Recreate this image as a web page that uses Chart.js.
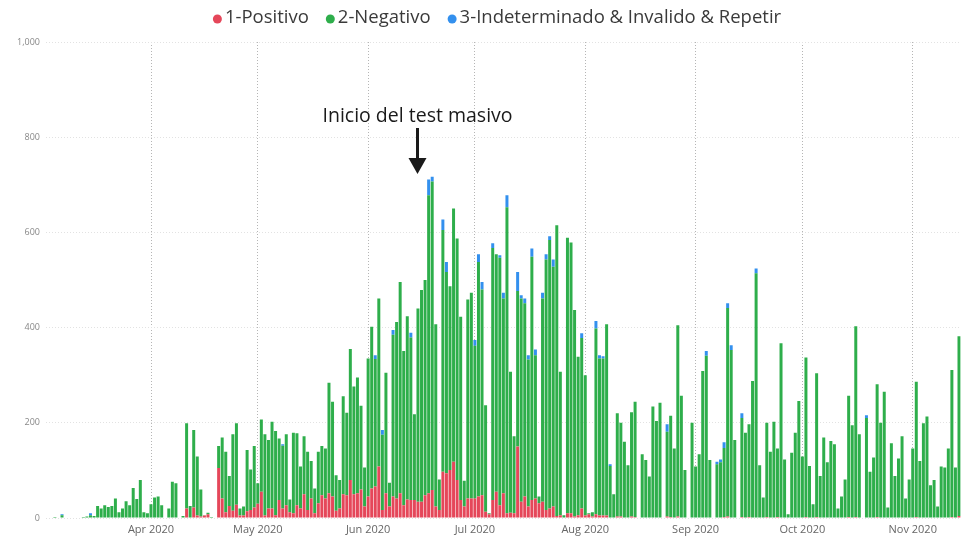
<!DOCTYPE html>
<html><head><meta charset="utf-8">
<script src="https://cdn.jsdelivr.net/npm/chart.js@4.4.1/dist/chart.umd.min.js"></script>
<style>html,body{margin:0;padding:0;background:#fff;overflow:hidden}#wrap{width:964px;height:538px;position:relative}</style>
</head><body><div id="wrap"><canvas id="c" width="964" height="538"></canvas></div>
<script>
// ---- Data (daily test results, 2020) ----
const SERIES_NAMES = ['1-Positivo', '2-Negativo', '3-Indeterminado & Invalido & Repetir'];
const MONTH_NAMES = ['Mar','Apr','May','Jun','Jul','Aug','Sep','Oct','Nov'];
const MONTH_NUMS  = [3,4,5,6,7,8,9,10,11];
const FIRST_DAYS  = [3,1,1,1,1,1,1,1,1];
const Y_TICKS = [0,200,400,600,800,1000];

const posMar = [0,0,0,0,0,0,0,0,0,0,0,0,0,0,0,0,0,0,0,0,0,0,0,0,0,0,0,0,0];
const negMar = [0,0,2,0,6,0,0,0,0,0,2,3,6,4,25,20,27,23,25,41,12,20,35,27,63,40,80,12,10];
const indMar = [0,0,0,0,2,0,0,0,0,0,0,0,4,0,0,0,0,0,0,0,0,0,0,0,0,0,0,0,0];

const posApr = [0,0,0,0,0,0,0,0,0,0,20,0,22,5,3,5,8,1,0,105,41,12,25,15,28,5,5,14,17,22];
const negApr = [29,43,45,27,0,20,76,73,0,4,179,25,163,124,57,1,3,1,0,46,128,127,63,161,171,15,19,129,85,129];
const indApr = [0,0,0,0,0,0,0,0,0,0,0,0,0,0,0,0,0,0,0,0,0,0,0,0,0,0,0,0,0,0];

const posMay = [30,55,5,20,20,6,38,20,27,12,10,27,20,50,17,41,10,31,48,41,52,45,15,20,50,48,80,50,52,60,24];
const negMay = [43,152,171,144,182,177,129,132,149,27,169,151,88,122,122,79,52,108,103,105,232,199,75,60,206,173,275,226,243,176,82];
const indMay = [0,0,0,0,0,0,0,3,0,0,0,0,0,0,0,0,0,0,0,0,0,0,0,0,0,0,0,0,0,0,0];

const posJun = [45,62,66,108,17,52,24,45,41,52,27,39,38,38,34,34,48,52,59,24,17,97,94,101,118,80,38,24,41,41];
const negJun = [290,340,268,353,158,253,50,340,371,444,324,385,341,180,406,445,452,626,648,383,64,508,423,386,532,507,385,54,418,432];
const indJun = [0,0,8,0,10,0,0,10,0,0,0,0,10,0,0,0,0,33,10,0,0,22,21,0,0,0,0,0,0,0];

const posJul = [41,45,48,13,8,38,55,27,52,10,11,10,150,34,45,24,38,41,31,34,17,20,24,4,6,0,10,10,3,6,20];
const negJul = [321,493,432,224,2,529,499,520,409,643,296,162,327,427,406,309,511,301,14,427,526,564,504,611,301,6,579,569,434,333,358];
const indJul = [12,16,16,0,0,10,0,5,12,25,0,0,40,7,10,9,17,12,0,12,11,8,15,0,0,0,0,0,0,0,10];

const posAug = [5,8,3,8,5,5,5,0,0,3,3,0,0,3,2,0,0,0,0,0,0,0,0,3,2,0,3,0,0,0,0];
const negAug = [295,2,9,390,330,330,402,109,50,217,197,160,111,219,242,0,134,122,87,234,204,242,0,178,213,146,402,257,101,0,200];
const indAug = [0,0,0,16,7,5,0,4,0,0,0,0,0,0,0,0,0,0,0,0,0,0,0,16,0,0,0,0,0,0,0];

const posSep = [0,0,0,0,0,0,0,0,2,3,0,0,0,2,0,2,0,0,0,0,2,0,0,2,0,0,0,0,0,0];
const negSep = [108,134,309,341,122,0,113,117,145,438,353,164,0,208,179,195,288,514,111,43,198,139,202,144,367,123,8,137,179,246];
const indSep = [0,0,0,10,0,0,5,6,12,10,10,0,0,10,0,0,0,10,0,0,0,0,0,0,0,0,0,0,0,0];

const posOct = [0,2,0,0,2,0,0,0,0,0,0,0,0,2,0,2,0,0,0,0,0,2,0,0,0,0,0,0,0,0,0];
const negOct = [129,335,109,29,302,88,169,117,162,155,20,45,81,255,195,401,176,0,210,97,127,279,200,265,22,157,88,125,172,41,81];
const indOct = [0,0,0,0,0,0,0,0,0,0,0,0,0,0,0,0,0,0,6,0,0,0,0,0,0,0,0,0,0,0,0];

const posNov = [0,2,0,0,0,0,0,0,0,0,0,2,0,4];
const negNov = [146,284,120,199,213,69,80,24,108,106,146,309,106,378];
const indNov = [0,0,0,0,0,0,0,0,0,0,0,0,0,0];

const ANNOTATION_TEXT = 'Inicio del test masivo';
const ANNOTATION_DATE = '2020-06-15';

// ---- Build tables ----
const posByMonth = [posMar,posApr,posMay,posJun,posJul,posAug,posSep,posOct,posNov];
const negByMonth = [negMar,negApr,negMay,negJun,negJul,negAug,negSep,negOct,negNov];
const indByMonth = [indMar,indApr,indMay,indJun,indJul,indAug,indSep,indOct,indNov];
const pad = n => String(n).padStart(2,'0');
const labels = [];
MONTH_NAMES.forEach((m, mi) => {
  for (let i = 0; i < negByMonth[mi].length; i++) {
    labels.push('2020-' + pad(MONTH_NUMS[mi]) + '-' + pad(FIRST_DAYS[mi] + i));
  }
});
const pos = [].concat(...posByMonth);
const neg = [].concat(...negByMonth);
const ind = [].concat(...indByMonth);

const RED = '#E5475A', GREEN = '#2EAE4B', BLUE = '#3390EE';
const FONT = '"Open Sans", "Noto Sans", sans-serif';

const isMonthStart = i => labels[i] && labels[i].endsWith('-01');

const legendPlugin = {
  id: 'customLegend',
  afterDraw(chart) {
    const ctx = chart.ctx;
    ctx.save();
    ctx.font = '18.5px ' + FONT;
    ctx.textBaseline = 'middle';
    const r = 4.5, gapDot = 3, gapItem = 17;
    const items = chart.data.datasets.map(d => ({text: d.label, color: d.backgroundColor, w: ctx.measureText(d.label).width}));
    const total = items.reduce((s, it) => s + r*2 + gapDot + it.w, 0) + gapItem * (items.length - 1);
    let x = 497 - total / 2;
    const y = 18;
    items.forEach(it => {
      ctx.fillStyle = it.color;
      ctx.beginPath(); ctx.arc(x + r, y + 1, r, 0, Math.PI*2); ctx.fill();
      x += r*2 + gapDot;
      ctx.fillStyle = '#3a3a3a';
      ctx.textAlign = 'left';
      ctx.fillText(it.text, x, y);
      x += it.w + gapItem;
    });
    ctx.restore();
  }
};

const annotationPlugin = {
  id: 'arrowNote',
  afterDatasetsDraw(chart) {
    const ctx = chart.ctx;
    const xs = chart.scales.x;
    const idx = labels.indexOf(ANNOTATION_DATE);
    const x = Math.round(xs.getPixelForValue(idx)) - 0.5;
    ctx.save();
    ctx.fillStyle = '#1a1a1a';
    ctx.font = '19.5px ' + FONT;
    ctx.textAlign = 'center';
    ctx.textBaseline = 'middle';
    ctx.fillText(ANNOTATION_TEXT, x, 116);
    ctx.fillRect(x - 1.5, 128, 3, 32);
    ctx.beginPath();
    ctx.moveTo(x - 9, 158); ctx.lineTo(x + 9, 158); ctx.lineTo(x, 174); ctx.closePath();
    ctx.fill();
    ctx.restore();
  }
};

new Chart(document.getElementById('c'), {
  type: 'bar',
  data: {
    labels,
    datasets: [
      {label: SERIES_NAMES[0], data: pos, backgroundColor: RED},
      {label: SERIES_NAMES[1], data: neg, backgroundColor: GREEN},
      {label: SERIES_NAMES[2], data: ind, backgroundColor: BLUE}
    ]
  },
  options: {
    responsive: false,
    animation: false,
    devicePixelRatio: 1,
    layout: {padding: {top: 42, right: 1, left: 0, bottom: 0}},
    datasets: {bar: {barPercentage: 0.84, categoryPercentage: 1.0, borderWidth: 0}},
    plugins: {legend: {display: false}, tooltip: {enabled: false}},
    scales: {
      x: {
        stacked: true,
        offset: true,
        grid: {offset: false, drawTicks: false, lineWidth: 1,
               color: c => isMonthStart(c.index) ? '#b5b5b5' : 'rgba(0,0,0,0)'},
        border: {display: false, dash: [1, 2]},
        ticks: {autoSkip: false, maxRotation: 0, minRotation: 0, padding: 5, color: '#666',
                font: {size: 11, family: FONT},
                callback: (v, i) => isMonthStart(i) ? MONTH_NAMES[MONTH_NUMS.indexOf(+labels[i].slice(5,7))] + ' 2020' : ''},
        afterFit: s => { s.height = 20; }
      },
      y: {
        stacked: true,
        min: Y_TICKS[0], max: Y_TICKS[Y_TICKS.length - 1],
        afterBuildTicks: s => { s.ticks = Y_TICKS.map(v => ({value: v})); },
        grid: {drawTicks: false, color: '#e2e2e2', lineWidth: 1},
        border: {display: false, dash: [1, 2]},
        ticks: {padding: 6, color: '#888', font: {size: 9, family: FONT},
                callback: v => v.toLocaleString('en-US')},
        afterFit: s => { s.width = 46; }
      }
    }
  },
  plugins: [annotationPlugin, legendPlugin]
});
</script>
</body></html>
